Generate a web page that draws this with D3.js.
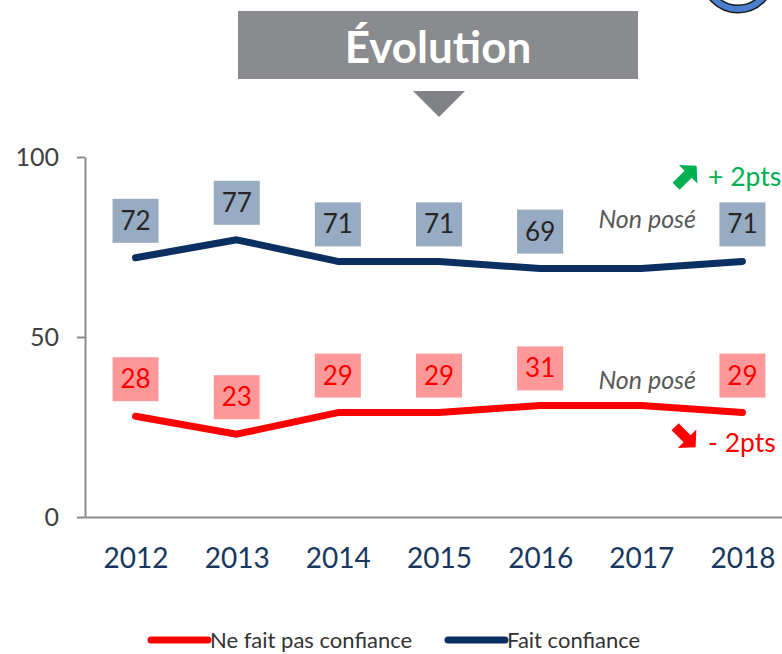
<!DOCTYPE html>
<html>
<head>
<meta charset="utf-8">
<script src="https://cdn.jsdelivr.net/npm/d3@7"></script>
<style>
  body { margin: 0; background: #fff; }
  svg { display: block; font-family: Lato, "Open Sans", sans-serif; }
</style>
</head>
<body>
<div id="chart"></div>
<script>
//Chart data
var years = ["2012", "2013", "2014", "2015", "2016", "2017", "2018"];
var faitConfiance = [72, 77, 71, 71, 69, 69, 71];
var neFaitPas = [28, 23, 29, 29, 31, 31, 29];
var nonPose = "2017";
var yTicks = [0, 50, 100];
var seriesNames = ["Ne fait pas confiance", "Fait confiance"];
var evolutions = ["+ 2pts", "- 2pts"];

var width = 782, height = 654;

var svg = d3.select("#chart")
    .append("svg")
    .attr("width", width)
    .attr("height", height);

//Scales
var x = d3.scalePoint()
    .domain(years)
    .range([85, 793])
    .padding(0.5);

var y = d3.scaleLinear()
    .domain([0, 100])
    .range([517, 157]);

//Title banner
svg.append("rect")
    .attr("x", 238).attr("y", 11)
    .attr("width", 400).attr("height", 68)
    .attr("fill", "#898b8e");

svg.append("text")
    .attr("x", 438).attr("y", 63)
    .attr("text-anchor", "middle")
    .attr("fill", "#fff")
    .style("font-weight", "bold")
    .style("font-size", "44px")
    .text("Évolution");

svg.append("path")
    .attr("d", "M413,91L465,91L439,117Z")
    .attr("fill", "#808285");

//Logo corner
svg.append("circle")
    .attr("cx", 738).attr("cy", -24).attr("r", 33)
    .attr("fill", "#fff")
    .attr("stroke", "#1a1a1a").attr("stroke-width", 9);
svg.append("circle")
    .attr("cx", 738).attr("cy", -24).attr("r", 33)
    .attr("fill", "none")
    .attr("stroke", "#4a7fd0").attr("stroke-width", 6);

//Axes
var yAxis = svg.append("g")
    .attr("transform", "translate(85,0)")
    .call(d3.axisLeft(y).tickValues(yTicks).tickSize(8).tickSizeOuter(0).tickPadding(18));

yAxis.select(".domain").attr("stroke", "#8c8c8c").attr("stroke-width", 2);
yAxis.selectAll(".tick line").attr("stroke", "#8c8c8c").attr("stroke-width", 2);
yAxis.selectAll(".tick text")
    .attr("fill", "#404040")
    .style("font-size", "25px")
    .style("font-family", "Lato, sans-serif");

var xAxis = svg.append("g")
    .attr("transform", "translate(0,517)")
    .call(d3.axisBottom(x).tickSize(0).tickSizeOuter(0).tickPadding(31));

xAxis.select(".domain").attr("stroke", "#8c8c8c").attr("stroke-width", 2);
xAxis.selectAll(".tick text")
    .attr("fill", "#17375e")
    .style("font-size", "28px")
    .style("font-family", "Lato, sans-serif");

//Lines
var line = d3.line()
    .x(function(d, i) { return x(years[i]); })
    .y(function(d) { return y(d); });

var series = [
    { name: seriesNames[0], values: neFaitPas, color: "#ff0000", box: "#ff9999", text: "#ff0000", offset: 15, noteOffset: -16 },
    { name: seriesNames[1], values: faitConfiance, color: "#0b2f61", box: "#97abc3", text: "#262626", offset: 15, noteOffset: -41 }
];

series.forEach(function(s) {
    svg.append("path")
        .datum(s.values)
        .attr("d", line)
        .attr("fill", "none")
        .attr("stroke", s.color)
        .attr("stroke-width", 7)
        .attr("stroke-linecap", "round")
        .attr("stroke-linejoin", "round");

    var labels = svg.append("g")
        .selectAll("g")
        .data(s.values.map(function(v, i) { return { year: years[i], v: v }; })
            .filter(function(d) { return d.year != nonPose; }))
        .enter()
        .append("g")
        .attr("transform", function(d) {
            return "translate(" + x(d.year) + "," + (y(d.v) - s.offset) + ")";
        });

    labels.append("rect")
        .attr("x", -23).attr("y", -44)
        .attr("width", 46).attr("height", 44)
        .attr("fill", s.box);

    labels.append("text")
        .attr("y", -13)
        .attr("text-anchor", "middle")
        .attr("fill", s.text)
        .style("font-size", "26px")
        .text(function(d) { return d.v; });

    var iNp = years.indexOf(nonPose);
    svg.append("text")
        .attr("x", x(nonPose) + 6)
        .attr("y", y(s.values[iNp]) + s.noteOffset)
        .attr("text-anchor", "middle")
        .attr("fill", "#595959")
        .style("font-style", "italic")
        .style("font-size", "25px")
        .text("Non posé");
});

//Evolution arrows
var arrow = "M-14,-5L3,-5L3,-13L15,0L3,13L3,5L-14,5Z";

svg.append("path")
    .attr("d", arrow)
    .attr("fill", "#00b050")
    .attr("transform", "translate(686," + (y(faitConfiance[6]) - 85) + ") rotate(-45)");
svg.append("text")
    .attr("x", 708)
    .attr("y", y(faitConfiance[6]) - 75)
    .attr("fill", "#00b050")
    .style("font-size", "26.5px")
    .text(evolutions[0]);

svg.append("path")
    .attr("d", arrow)
    .attr("fill", "#ff0000")
    .attr("transform", "translate(685," + (y(neFaitPas[6]) + 24) + ") rotate(45)");
svg.append("text")
    .attr("x", 708)
    .attr("y", y(neFaitPas[6]) + 39)
    .attr("fill", "#ff0000")
    .style("font-size", "26.5px")
    .text(evolutions[1]);

//Legend
var legend = svg.append("g")
    .selectAll("g")
    .data(series)
    .enter()
    .append("g")
    .attr("transform", function(d, i) { return "translate(" + [151, 448][i] + ",640)"; });

legend.append("line")
    .attr("x1", 0).attr("x2", 57)
    .attr("stroke", function(d) { return d.color; })
    .attr("stroke-width", 7)
    .attr("stroke-linecap", "round");

legend.append("text")
    .attr("x", 59).attr("y", 8)
    .attr("fill", "#333")
    .style("font-size", "22px")
    .text(function(d) { return d.name; });
</script>
</body>
</html>
